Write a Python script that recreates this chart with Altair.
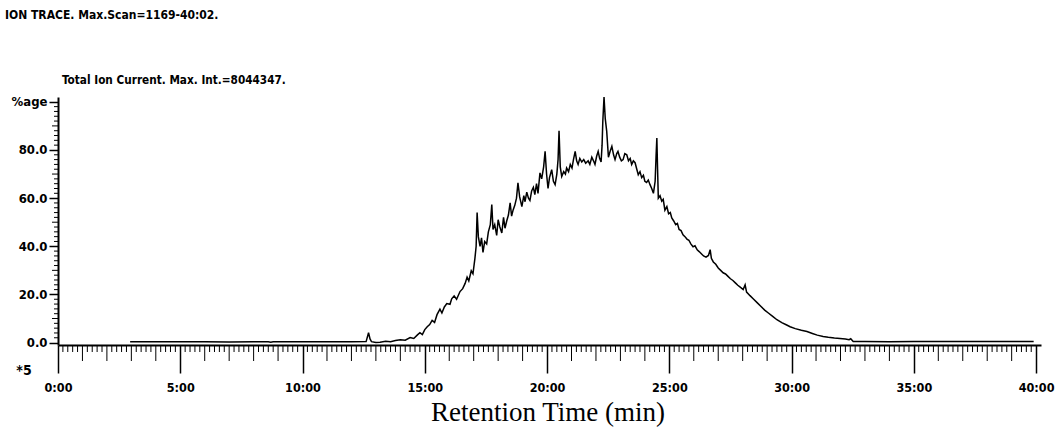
import altair as alt
import pandas as pd
import numpy as np

# ---- data ----
times = [2.95, 4.0, 5.0, 6.0, 7.0, 8.0, 8.6, 8.7, 8.8, 10.0, 11.0, 12.0, 12.6, 12.7, 12.76, 12.82,
         13.0, 13.17, 13.4, 13.6, 13.8, 14.0, 14.2, 14.4, 14.55, 14.7, 14.8, 14.9, 15.0, 15.1, 15.2,
         15.3, 15.4, 15.5, 15.62, 15.7, 15.8, 15.9, 16.03, 16.1, 16.2, 16.3, 16.44, 16.55, 16.65,
         16.73, 16.8, 16.9, 16.97, 17.05, 17.1, 17.14, 17.19, 17.26, 17.32, 17.38, 17.45, 17.53,
         17.6, 17.68, 17.74, 17.79, 17.86, 17.94, 18.0, 18.07, 18.15, 18.22, 18.28, 18.35, 18.42,
         18.49, 18.55, 18.61, 18.68, 18.75, 18.81, 18.88, 18.97, 19.05, 19.1, 19.17, 19.24, 19.3,
         19.37, 19.44, 19.5, 19.57, 19.63, 19.71, 19.78, 19.86, 19.92, 19.98, 20.04, 20.1, 20.19,
         20.26, 20.33, 20.4, 20.45, 20.49, 20.54, 20.6, 20.68, 20.75, 20.8, 20.88, 20.95, 21.02,
         21.08, 21.15, 21.21, 21.27, 21.34, 21.42, 21.5, 21.58, 21.68, 21.75, 21.83, 21.9, 21.96,
         22.03, 22.09, 22.15, 22.21, 22.25, 22.28, 22.33, 22.38, 22.44, 22.51, 22.58, 22.65, 22.72,
         22.78, 22.85, 22.9, 22.97, 23.04, 23.11, 23.18, 23.26, 23.33, 23.4, 23.46, 23.53, 23.6,
         23.67, 23.73, 23.8, 23.87, 23.94, 24.0, 24.07, 24.14, 24.21, 24.28, 24.35, 24.42, 24.46,
         24.49, 24.52, 24.55, 24.62, 24.69, 24.75, 24.82, 24.9, 24.97, 25.04, 25.1, 25.18, 25.26,
         25.33, 25.4, 25.48, 25.56, 25.64, 25.72, 25.8, 25.88, 25.97, 26.05, 26.14, 26.22, 26.3,
         26.4, 26.5, 26.6, 26.67, 26.72, 26.8, 26.9, 27.0, 27.1, 27.2, 27.3, 27.4, 27.5, 27.6,
         27.7, 27.8, 27.9, 28.02, 28.1, 28.16, 28.3, 28.45, 28.59, 28.75, 28.9, 29.05, 29.24,
         29.4, 29.6, 29.8, 29.94, 30.15, 30.4, 30.63, 30.85, 31.05, 31.29, 31.5, 31.75, 31.98,
         32.2, 32.35, 32.42, 32.52, 33.0, 34.0, 35.0, 36.0, 37.0, 38.0, 39.0, 39.9]
values = [0.3, 0.3, 0.3, 0.3, 0.2, 0.3, 0.3, 0.1, 0.3, 0.3, 0.3, 0.3, 0.4, 4.1, 1.5, 0.4,
          0.0, 0.1, 0.6, 0.4, 0.9, 1.2, 1.0, 2.1, 1.7, 3.2, 4.1, 3.3, 5.4, 6.6, 7.5,
          9.2, 8.4, 11.6, 13.9, 12.3, 14.8, 16.2, 15.9, 18.2, 19.4, 18.0, 21.2, 22.4, 24.6,
          27.2, 25.6, 29.8, 28.6, 35.0, 40.0, 54.0, 44.0, 40.0, 43.5, 37.5, 42.0, 41.0,
          46.0, 49.0, 57.3, 47.0, 49.0, 44.5, 51.0, 48.0, 45.5, 52.0, 47.5, 50.5, 53.0,
          58.0, 52.5, 55.0, 57.0, 60.0, 66.4, 60.5, 56.5, 61.0, 58.5, 62.5, 60.0, 59.0,
          63.0, 64.5, 61.5, 66.0, 62.0, 70.5, 68.0, 73.0, 79.4, 70.0, 64.0, 68.5, 71.8,
          67.0, 65.6, 70.0, 76.0, 88.0, 73.0, 69.0, 71.0, 70.0, 72.5, 71.0, 74.0, 72.5,
          76.0, 79.4, 75.5, 74.0, 76.5, 75.0, 76.0, 74.5, 75.5, 74.0, 77.0, 75.5, 74.0,
          77.5, 79.4, 76.5, 75.0, 82.0, 91.8, 102.0, 93.0, 87.7, 77.0, 79.5, 81.5, 78.0,
          76.0, 78.5, 79.4, 77.0, 75.5, 76.0, 78.5, 78.0, 75.5, 76.5, 74.0, 75.5, 74.7,
          72.0, 69.7, 71.0, 68.5, 69.5, 67.0, 66.5, 67.5, 65.6, 64.0, 62.0, 67.0, 78.0,
          85.0, 72.0, 60.0, 61.0, 58.7, 59.5, 55.0, 56.5, 53.5, 54.0, 51.8, 50.5, 49.0,
          49.5, 47.0, 46.5, 44.8, 44.0, 43.0, 42.5, 41.0, 39.8, 40.2, 38.5, 37.8, 37.0,
          36.0, 35.5, 36.2, 38.6, 35.0, 33.5, 32.5, 31.0, 30.0, 29.0, 28.5, 27.5, 26.5, 25.8,
          24.8, 23.8, 23.0, 22.0, 24.0, 21.0, 19.5, 18.0, 16.6, 15.0, 13.5, 12.3, 10.8,
          9.5, 8.3, 7.3, 6.6, 5.8, 5.1, 4.6, 3.8, 3.1, 2.5, 2.2, 1.9, 1.7,
          1.5, 1.2, 1.6, 0.5, 0.5, 0.4, 0.5, 0.5, 0.5, 0.5, 0.5, 0.5]

x_major = [0, 5, 10, 15, 20, 25, 30, 35, 40]
y_major = [0, 20, 40, 60, 80, 100]
title_main = "ION TRACE. Max.Scan=1169-40:02."
title_sub = "Total Ion Current. Max. Int.=8044347."
x_title = "Retention Time (min)"
corner_label = "*5"

# tick positions for the minor tick marks
x_mid = [m for m in range(0, 41) if m % 5 != 0]
x_minor = [round(v, 2) for v in np.arange(0, 40.01, 0.2) if abs(v - round(v)) > 1e-6]
y_mid = [10, 30, 50, 70, 90]
y_minor = [v for v in range(0, 101, 2) if v % 10 != 0]

FONT = "DejaVu Sans Condensed, Liberation Sans Narrow, sans-serif"
W, H = 983, 248

df = pd.DataFrame({"t": times, "v": values})
xs = alt.Scale(domain=[0, 40.2], nice=False, zero=False)
ys = alt.Scale(domain=[-1, 102], nice=False, zero=False)

x_axis = alt.Axis(
    values=x_major, tickSize=28, tickWidth=1.5, tickColor="black",
    domainColor="black", domainWidth=2, labelExpr="floor(datum.value) + ':00'",
    labelFont=FONT, labelFontWeight="bold", labelFontSize=12.5, labelColor="black",
    labelPadding=8, grid=False, title=None, labelFlush=False)
y_axis = alt.Axis(
    values=y_major, tickSize=9, tickWidth=1.5, tickColor="black",
    domainColor="black", domainWidth=2,
    labelExpr="datum.value == 100 ? '%age' : format(datum.value, '.1f')",
    labelFont=FONT, labelFontWeight="bold", labelFontSize=13, labelColor="black",
    labelPadding=2, grid=False, title=None, labelFlush=False)

line = alt.Chart(df).mark_line(color="black", strokeWidth=1.5, clip=False).encode(
    x=alt.X("t:Q", scale=xs, axis=x_axis),
    y=alt.Y("v:Q", scale=ys, axis=y_axis),
)

def xticks(vals, length):
    return alt.Chart(pd.DataFrame({"t": vals})).mark_rule(color="black", strokeWidth=1).encode(
        x=alt.X("t:Q", scale=xs, axis=x_axis), y=alt.value(H), y2=alt.value(H + length))

def yticks(vals, length):
    return alt.Chart(pd.DataFrame({"v": vals})).mark_rule(color="black", strokeWidth=1).encode(
        y=alt.Y("v:Q", scale=ys, axis=y_axis), x=alt.value(0), x2=alt.value(-length))

def label(text, x, y, size, font=FONT, weight="bold", align="left"):
    return alt.Chart(pd.DataFrame({"s": [text]})).mark_text(
        font=font, fontSize=size, fontWeight=weight, align=align, baseline="middle",
        color="black").encode(x=alt.value(x), y=alt.value(y), text="s:N")

chart = alt.layer(
    line,
    xticks(x_minor, 7), xticks(x_mid, 16), yticks(y_minor, 4), yticks(y_mid, 6),
    label(title_main, -53, -82, 12),
    label(title_sub, 4, -17, 11.7),
    label(corner_label, -34, 274, 14, align="center"),
    label(x_title, 490, 316, 27, font="Liberation Serif, Times New Roman, serif",
          weight="normal", align="center"),
).properties(
    width=W, height=H,
    autosize=alt.AutoSizeParams(type="none"),
    padding={"left": 58, "top": 97, "right": 18, "bottom": 94},
    background="white",
).configure_view(stroke=None)

chart.save("out.html", embed_options={"renderer": "svg", "actions": False})
